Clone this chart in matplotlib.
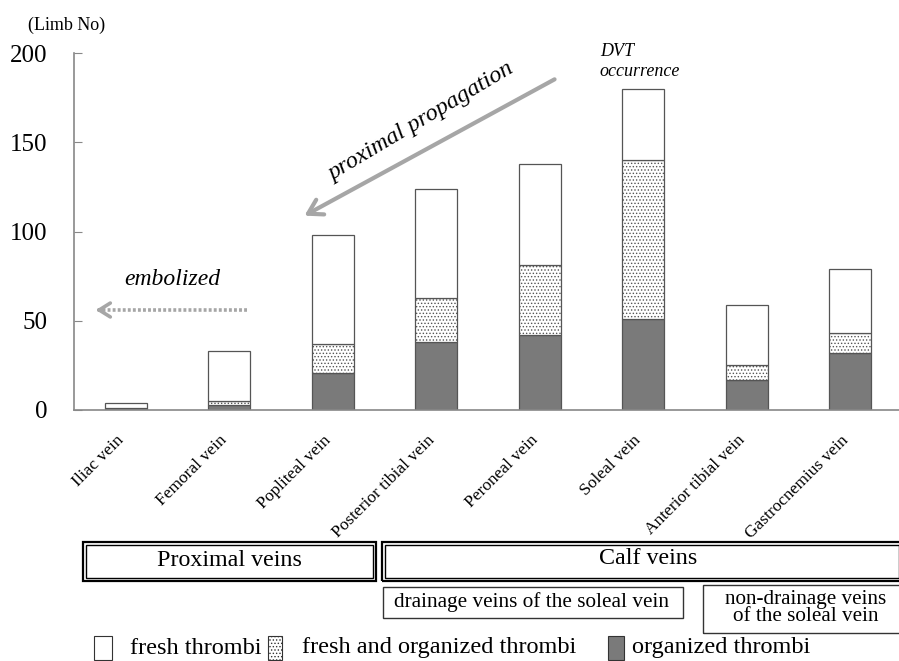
import matplotlib
matplotlib.use("Agg")
import matplotlib.pyplot as plt
from matplotlib.patches import Rectangle, FancyArrowPatch
from matplotlib.lines import Line2D
from matplotlib.transforms import ScaledTranslation
import numpy as np

plt.rcParams['font.family'] = ['Liberation Serif', 'DejaVu Serif']
plt.rcParams['hatch.linewidth'] = 0.6
plt.rcParams['hatch.color'] = '#333333'

categories = ["Iliac vein", "Femoral vein", "Popliteal vein", "Posterior tibial vein",
              "Peroneal vein", "Soleal vein", "Anterior tibial vein", "Gastrocnemius vein"]
organized = [1, 3, 21, 38, 42, 51, 17, 32]
mixed = [0, 2, 16, 25, 39, 89, 8, 11]
fresh = [3, 28, 61, 61, 57, 40, 34, 36]
yticks = [0, 50, 100, 150, 200]

W, H = 899, 661
fig = plt.figure(figsize=(W / 100, H / 100), dpi=100)

def fx(x):
    return x / W

def fy(y):
    return 1 - y / H

ax = fig.add_axes([fx(74), fy(410), (902 - 74) / W, (410 - 53) / H])
x = np.arange(len(categories))
bw = 0.41
edge = '#555555'
org = np.array(organized)
mix = np.array(mixed)
fr = np.array(fresh)
ax.bar(x, org, bw, color='#7a7a7a', edgecolor=edge, linewidth=0.9)
ax.bar(x, mix, bw, bottom=org, color='white', edgecolor=edge, linewidth=0.9, hatch='.....')
ax.bar(x, fr, bw, bottom=org + mix, color='white', edgecolor=edge, linewidth=0.9)

ax.set_xlim(-0.5, len(categories) - 0.5)
ax.set_ylim(0, 200)
ax.set_yticks(yticks)
ax.set_yticklabels([str(v) for v in yticks], fontsize=18)
ax.set_xticks(x)
ax.set_xticklabels(categories, rotation=45, ha='right', va='top', rotation_mode='anchor', fontsize=12.5)
ax.tick_params(axis='x', length=0, pad=16)
ax.tick_params(axis='y', direction='in', length=6, pad=19, color='#888888')
shift = ScaledTranslation(-10 / 100, 0, fig.dpi_scale_trans)
for lab in ax.get_xticklabels():
    lab.set_transform(lab.get_transform() + shift)
for s in ['top', 'right']:
    ax.spines[s].set_visible(False)
for s in ['left', 'bottom']:
    ax.spines[s].set_color('#888888')
    ax.spines[s].set_linewidth(1.2)

fig.text(fx(28), fy(25), "(Limb No)", fontsize=13, va='center', ha='left')

# Annotations
arr = FancyArrowPatch((fx(557), fy(78)), (fx(302), fy(217)), transform=fig.transFigure,
                      arrowstyle='->,head_length=10,head_width=6', color='#a6a6a6', lw=3,
                      mutation_scale=1)
fig.patches.append(arr)
fig.text(fx(421), fy(122), "proximal propagation", fontsize=17.5, style='italic',
         rotation=30.8, ha='center', va='center')
fig.text(fx(600), fy(51), "DVT", fontsize=13, style='italic', ha='left', va='center')
fig.text(fx(599), fy(72), "occurrence", fontsize=13, style='italic', ha='left', va='center')

fig.text(fx(172), fy(280), "embolized", fontsize=17, style='italic', ha='center', va='center')
fig.add_artist(Line2D([fx(247), fx(100)], [fy(310), fy(310)], transform=fig.transFigure,
                      color='#a6a6a6', lw=2.6, linestyle=(0, (0.8, 0.6))))
arr2 = FancyArrowPatch((fx(104), fy(310)), (fx(93), fy(310)), transform=fig.transFigure,
                       arrowstyle='->,head_length=8,head_width=5', color='#a6a6a6', lw=2.6,
                       mutation_scale=1)
fig.patches.append(arr2)

# Boxes
def double_box(x0, y0, x1, y1):
    fig.patches.append(Rectangle((fx(x0), fy(y1)), fx(x1 - x0), (y1 - y0) / H,
                                 transform=fig.transFigure, fill=False, ec='black', lw=1.6))
    g = 3
    fig.patches.append(Rectangle((fx(x0 + g), fy(y1 - g)), fx(x1 - x0 - 2 * g), (y1 - y0 - 2 * g) / H,
                                 transform=fig.transFigure, fill=False, ec='black', lw=1.0))

def single_box(x0, y0, x1, y1):
    fig.patches.append(Rectangle((fx(x0), fy(y1)), fx(x1 - x0), (y1 - y0) / H,
                                 transform=fig.transFigure, fill=False, ec='#333333', lw=1.0))

double_box(83, 542, 376, 581)
double_box(382, 542, 902, 581)
fig.text(fx(229), fy(560), "Proximal veins", fontsize=17.3, ha='center', va='center')
fig.text(fx(648), fy(558), "Calf veins", fontsize=17.3, ha='center', va='center')

single_box(383, 587, 683, 618)
fig.text(fx(531), fy(602), "drainage veins of the soleal vein", fontsize=15.3, ha='center', va='center')
single_box(703, 585, 902, 633)
fig.text(fx(806), fy(608), "non-drainage veins\nof the soleal vein", fontsize=15.2, ha='center',
         va='center', linespacing=0.85)

# Legend
fig.patches.append(Rectangle((fx(94), fy(660)), fx(18), 24 / H, transform=fig.transFigure,
                             fc='white', ec='#333333', lw=0.8))
fig.text(fx(130), fy(648), "fresh thrombi", fontsize=17.5, ha='left', va='center')
fig.patches.append(Rectangle((fx(268), fy(660)), fx(14), 24 / H, transform=fig.transFigure,
                             fc='white', ec='#333333', lw=0.8, hatch='.....'))
fig.text(fx(302), fy(648), "fresh and organized thrombi", fontsize=17.5, ha='left', va='center')
fig.patches.append(Rectangle((fx(608), fy(660)), fx(16), 24 / H, transform=fig.transFigure,
                             fc='#7a7a7a', ec='#333333', lw=0.8))
fig.text(fx(632), fy(648), "organized thrombi", fontsize=17.5, ha='left', va='center')

fig.savefig("out.png", dpi=100)
